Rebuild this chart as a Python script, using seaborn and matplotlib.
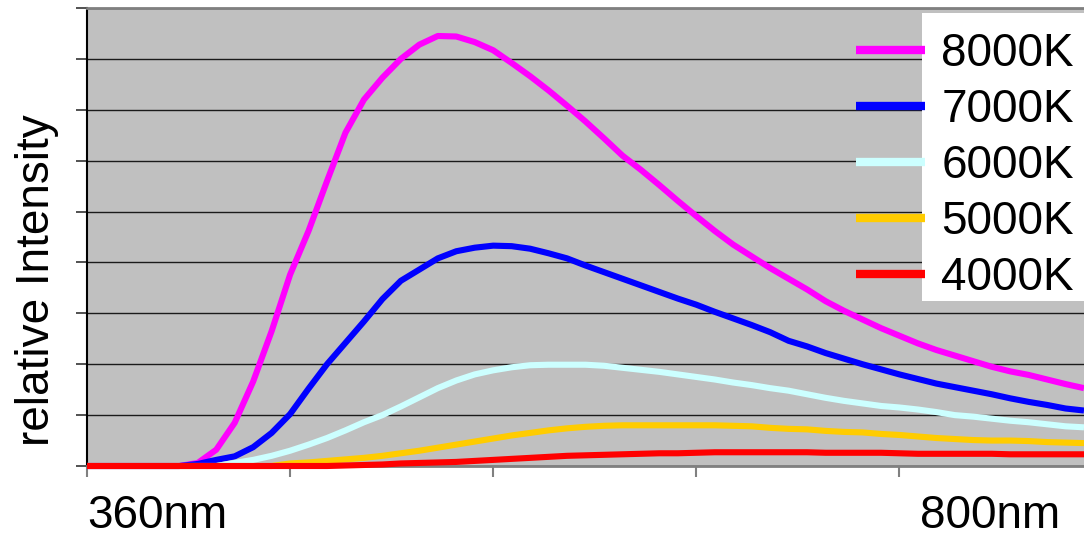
import matplotlib
matplotlib.use("Agg")
import matplotlib.pyplot as plt
import matplotlib.transforms as mtransforms
from matplotlib.patches import Rectangle
from matplotlib.lines import Line2D
import pandas as pd
import seaborn as sns

wavelength_nm = list(range(360, 901, 10))

k8000 = [0, 0, 0, 0, 0, 0, 0.06, 0.32, 0.85, 1.66, 2.65, 3.76, 4.62, 5.6, 6.55, 7.2,
         7.63, 8.0, 8.28, 8.45, 8.44, 8.33, 8.17, 7.92, 7.66, 7.38, 7.08, 6.77, 6.44,
         6.1, 5.82, 5.52, 5.21, 4.91, 4.62, 4.35, 4.12, 3.89, 3.68, 3.47, 3.24, 3.05,
         2.88, 2.71, 2.56, 2.41, 2.28, 2.17, 2.06, 1.95, 1.86, 1.79, 1.70, 1.61, 1.53]
k7000 = [0, 0, 0, 0, 0, 0, 0.04, 0.12, 0.19, 0.37, 0.65, 1.02, 1.52, 2.0, 2.42, 2.84,
         3.28, 3.64, 3.86, 4.08, 4.22, 4.29, 4.33, 4.32, 4.27, 4.18, 4.08, 3.94, 3.81,
         3.68, 3.55, 3.42, 3.29, 3.17, 3.03, 2.9, 2.77, 2.63, 2.46, 2.35, 2.22, 2.11,
         2.0, 1.9, 1.80, 1.71, 1.62, 1.55, 1.48, 1.41, 1.33, 1.26, 1.2, 1.13, 1.09]
k6000 = [0, 0, 0, 0, 0, 0, 0, 0, 0.06, 0.12, 0.2, 0.3, 0.42, 0.55, 0.7, 0.86, 1.0,
         1.17, 1.35, 1.53, 1.68, 1.8, 1.88, 1.94, 1.98, 1.99, 1.99, 1.99, 1.97, 1.93,
         1.89, 1.85, 1.80, 1.75, 1.70, 1.64, 1.59, 1.53, 1.48, 1.41, 1.34, 1.28, 1.23,
         1.18, 1.15, 1.11, 1.06, 1.0, 0.97, 0.93, 0.89, 0.86, 0.82, 0.78, 0.76]
k5000 = [0, 0, 0, 0, 0, 0, 0, 0, 0, 0, 0, 0.05, 0.07, 0.1, 0.13, 0.16, 0.2, 0.25,
         0.3, 0.36, 0.42, 0.48, 0.54, 0.6, 0.65, 0.7, 0.74, 0.77, 0.79, 0.8, 0.8, 0.8,
         0.8, 0.8, 0.8, 0.79, 0.78, 0.75, 0.73, 0.72, 0.69, 0.67, 0.66, 0.63, 0.61,
         0.58, 0.55, 0.53, 0.51, 0.5, 0.5, 0.49, 0.47, 0.46, 0.45]
k4000 = [0, 0, 0, 0, 0, 0, 0, 0, 0, 0, 0, 0, 0, 0, 0.01, 0.02, 0.03, 0.05, 0.06,
         0.07, 0.08, 0.1, 0.12, 0.14, 0.16, 0.18, 0.2, 0.21, 0.22, 0.23, 0.24, 0.25,
         0.25, 0.26, 0.27, 0.27, 0.27, 0.27, 0.27, 0.27, 0.26, 0.26, 0.26, 0.26, 0.25,
         0.24, 0.24, 0.24, 0.24, 0.24, 0.23, 0.23, 0.23, 0.23, 0.23]

series_names = ["8000K", "7000K", "6000K", "5000K", "4000K"]
series_values = [k8000, k7000, k6000, k5000, k4000]
series_colors = ["#FF00FF", "#0000FF", "#CCFFFF", "#FFCC00", "#FF0000"]

x_ticks = [360, 470, 580, 690, 800]
x_tick_labels = ["360nm", "", "", "", "800nm"]
y_ticks = list(range(0, 10))

rows = []
for name, vals in zip(series_names, series_values):
    for w, v in zip(wavelength_nm, vals):
        rows.append({"wavelength": w, "intensity": v, "series": name})
df = pd.DataFrame(rows)

sns.set_style("white")
plt.rcParams["font.family"] = ["Liberation Sans", "DejaVu Sans"]
plt.rcParams["text.color"] = "black"
plt.rcParams["axes.labelcolor"] = "black"
plt.rcParams["xtick.color"] = "black"
plt.rcParams["ytick.color"] = "black"

fig = plt.figure(figsize=(10.84, 5.39), dpi=100)
ax = fig.add_axes([87 / 1084, 1 - 466 / 539, 1 - 87 / 1084, (466 - 8) / 539])
ax.set_facecolor("#C0C0C0")

palette = dict(zip(series_names, series_colors))
sns.lineplot(data=df, x="wavelength", y="intensity", hue="series",
             hue_order=series_names, palette=palette, linewidth=4.4,
             legend=False, ax=ax, estimator=None, sort=True)
for ln in ax.get_lines():
    ln.set_clip_on(False)
    ln.set_solid_capstyle("butt")
    ln.set_zorder(3)

ax.set_xlim(360, 900)
ax.set_ylim(0, 9)
ax.set_yticks(y_ticks)
ax.set_yticklabels([])
ax.set_xticks(x_ticks)
ax.set_xticklabels(x_tick_labels, fontsize=33, color="black")

ax.grid(axis="y", color="#1a1a1a", linewidth=1.0, zorder=1)
ax.grid(axis="x", visible=False)
ax.set_axisbelow(True)

ax.tick_params(axis="x", direction="out", length=8, width=1.5, color="#808080",
               labelcolor="black", pad=12, bottom=True)
ax.tick_params(axis="y", direction="out", length=8, width=1.2, color="#333333",
               left=True)

for lbl in ax.get_xticklabels():
    lbl.set_horizontalalignment("left")
off = mtransforms.ScaledTranslation(0.21, 0, fig.dpi_scale_trans)
lbls = ax.get_xticklabels()
lbls[-1].set_transform(lbls[-1].get_transform() + off)

for side in ["top", "bottom"]:
    ax.spines[side].set_color("#808080")
    ax.spines[side].set_linewidth(2)
ax.spines["left"].set_color("#000000")
ax.spines["left"].set_linewidth(1.5)
ax.spines["right"].set_visible(False)

ax.set_xlabel("")
ax.set_ylabel("relative Intensity", fontsize=33, color="black")
ax.yaxis.set_label_coords(-0.028, 0.405)

# legend background box
rect = Rectangle(((921 - 87) / 996, (466 - 301) / 458), 0.2, (301 - 13) / 458,
                 transform=ax.transAxes, facecolor="white", edgecolor="none",
                 zorder=2, clip_on=False)
ax.add_patch(rect)

handles = [Line2D([0], [0], color=c, linewidth=6, solid_capstyle="butt")
           for c in series_colors]
leg = ax.legend(handles, series_names, loc="upper left",
                bbox_to_anchor=(856 / 1084, 1 - 32 / 539),
                bbox_transform=fig.transFigure, frameon=False, fontsize=33,
                handlelength=1.5, handletextpad=0.36, labelspacing=0.26,
                borderpad=0, borderaxespad=0, labelcolor="black")
leg.set_zorder(5)

fig.savefig("out.png", dpi=100)
